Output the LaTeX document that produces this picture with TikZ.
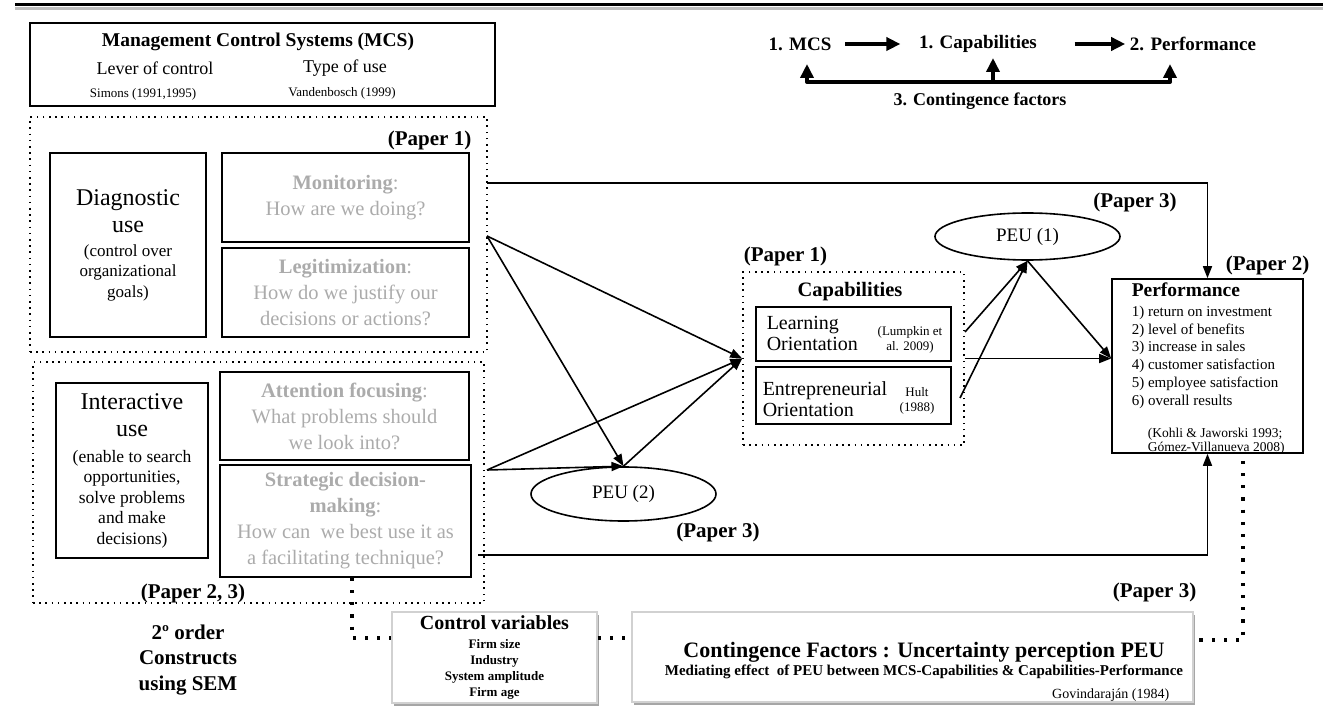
\documentclass[tikz,border=0pt]{standalone}
\usepackage{fontspec}
\setmainfont{Liberation Serif}
\usetikzlibrary{arrows.meta,shadows,shapes.geometric}
\newcommand{\fsz}[2]{\fontsize{#1}{#2}\selectfont}

\tikzset{every picture/.style={line width=1.5pt},
  box/.style={draw, line width=1.6pt, inner sep=0pt, align=center},
  dotbox/.style={draw, line width=1.6pt, dash pattern=on 1.6pt off 4.6pt, inner sep=0pt},
  gtxt/.style={text=black!33, align=center, inner sep=0pt, font=\fsz{20.5}{26}},
  peu/.style={draw, ellipse, line width=1.6pt, inner sep=0pt, font=\fsz{19}{20}},
  arr/.style={-{Triangle[length=12pt,width=9pt]}, line width=1.6pt},
  fatarr/.style={-{Triangle[length=14pt,width=13pt]}, line width=4pt},
  bigdots/.style={line width=3.2pt, dash pattern=on 3.2pt off 9pt},
  shbox/.style={draw=black!18, line width=1.6pt, fill=white, inner sep=0pt, align=center,
    drop shadow={shadow xshift=2pt, shadow yshift=-3pt, opacity=0.35, fill=black}},
  paper/.style={font=\bfseries\fsz{21}{24}, inner sep=0pt},
  txt/.style={inner sep=0pt, align=center}}

\begin{document}
\begin{tikzpicture}[x=1pt,y=1pt,yscale=-1,xscale=1]
\useasboundingbox (0,0) rectangle (1323,722);

% top rule
\draw [black!25, line width=3pt] (15,9) -- (1323,9);
\draw [line width=3pt] (15,5) -- (1323,5);

% MCS header
\node [box, minimum width=465pt, minimum height=83pt] (mcs) at (262.5,64.5) {};
\node [txt, font=\bfseries\fsz{19.5}{22}] (mcstitle) at (258,42) {Management Control Systems (MCS)};
\node [txt, font=\fsz{18}{20}] (lever) at (155,68) {Lever of control};
\node [txt, font=\fsz{18}{20}] (typeuse) at (345,68) {Type of use};
\node [txt, font=\fsz{13}{15}] (simons) at (143,94) {Simons (1991,1995)};
\node [txt, font=\fsz{13}{15}] (vanden) at (342,93) {Vandenbosch (1999)};

% top chain
\node [txt, font=\bfseries\fsz{19}{21}] (t1) at (800,44) {1. MCS};
\node [txt, font=\bfseries\fsz{19}{21}] (t2) at (978,44) {1. Capabilities};
\node [txt, font=\bfseries\fsz{19}{21}] (t3) at (1193,44) {2. Performance};
\node [txt, font=\bfseries\fsz{18}{20}] (t4) at (980,101) {3. Contingence factors};
\draw [fatarr, shorten <=13pt, shorten >=18pt] (t1.east) -- (t2.west);
\draw [fatarr, shorten <=37pt, shorten >=4pt] (t2.east) -- (t3.west);
\coordinate (bl) at (807,82);
\coordinate (bm) at (993,82);
\coordinate (br) at (1170,82);
\coordinate (bltip) at (807,64);
\coordinate (bmtip) at (993,58);
\coordinate (brtip) at (1170,64);
\draw [line width=4pt, line cap=round] (bl) -- (br);
\draw [fatarr] (bl) -- (bltip);
\draw [fatarr] (bm) -- (bmtip);
\draw [fatarr] (br) -- (brtip);

% diagnostic use
\node [dotbox, minimum width=457pt, minimum height=235pt] (pbox1) at (258.5,234.5) {};
\node [paper, anchor=east] (paper1a) at (472,140) {(Paper 1)};
\node [box, minimum width=156pt, minimum height=184pt, font=\fsz{17}{20.5}] (diag) at (128,245)
  {{\fsz{24}{27}Diagnostic}\\[6.5pt]{\fsz{24}{27}use}\\[3.5pt](control over\\organizational\\goals)};
\node [box, minimum width=247pt, minimum height=89pt] (mon) at (345.5,197.5) {};
\node [gtxt] (montxt) at (mon.center) {\textbf{Monitoring}:\\How are we doing?};
\node [box, minimum width=247pt, minimum height=89pt] (legit) at (345.5,292.5) {};
\node [gtxt] (legittxt) at (legit.center) {\textbf{Legitimization}:\\How do we justify our\\decisions or actions?};

% interactive use
\node [dotbox, minimum width=451pt, minimum height=241pt] (pbox2) at (258.5,482.5) {};
\node [box, minimum width=152pt, minimum height=175pt, font=\fsz{17.5}{20.5}] (inter) at (132,470.5)
  {{\fsz{24}{27}Interactive}\\[6.5pt]{\fsz{24}{27}use}\\[5.5pt](enable to search\\opportunities,\\solve problems\\and make\\decisions)};
\node [box, minimum width=249pt, minimum height=88pt] (attn) at (344.5,416) {};
\node [gtxt] (attntxt) at (attn.center) {\textbf{Attention focusing}:\\What problems should\\we look into?};
\node [box, minimum width=251pt, minimum height=112pt] (strat) at (345.5,521) {};
\node [gtxt] (strattxt) at (strat.center) {\textbf{Strategic decision-}\\\textbf{making}:\\How can\ \ we best use it as\\a facilitating technique?};
\node [paper] (paper23) at (193,593) {(Paper 2, 3)};
\node [txt, font=\bfseries\fsz{21}{25.5}] (sem) at (188,660) {2º order\\Constructs\\using SEM};

% capabilities
\node [dotbox, minimum width=221pt, minimum height=173pt] (capbox) at (853.5,358.5) {};
\node [paper, anchor=west] (paper1b) at (743,256) {(Paper 1)};
\node [txt, font=\bfseries\fsz{20.5}{22}] (captitle) at (850,292) {Capabilities};
\node [box, minimum width=195pt, minimum height=54pt] (learn) at (853.5,334) {};
\node [txt, align=left, anchor=west, font=\fsz{20}{21}] (learntxt) at (766,333) {Learning\\Orientation};
\node [txt, font=\fsz{13}{15}] (lumpkin) at (910,340) {(Lumpkin et\\al. 2009)};
\node [box, minimum width=195pt, minimum height=57pt] (entre) at (853.5,395.5) {};
\node [txt, align=left, anchor=west, font=\fsz{20}{21}] (entretxt) at (762,399.5) {Entrepreneurial\\Orientation};
\node [txt, font=\fsz{13}{15}] (hult) at (917,400.5) {Hult\\(1988)};

% PEU
\node [peu, minimum width=185pt, minimum height=47pt] (peu1) at (1027.5,236.5) {PEU (1)};
\node [paper] (paper3a) at (1135,202) {(Paper 3)};
\node [peu, minimum width=185pt, minimum height=54pt] (peu2) at (623.5,494) {PEU (2)};
\node [paper] (paper3b) at (718,532) {(Paper 3)};

% performance
\node [box, minimum width=191pt, minimum height=174pt] (perf) at (1207.5,366) {};
\node [paper, anchor=east] (paper2) at (1310,265) {(Paper 2)};
\node [txt, align=left, anchor=north west, font=\fsz{15}{17.8}] (perftxt) at (1131,282)
  {{\fsz{19.5}{20}\bfseries Performance}\\[2pt]1) return on investment\\2) level of benefits\\3) increase in sales\\4) customer satisfaction\\5) employee satisfaction\\6) overall results\\[14pt]
  \hspace{16pt}{\fsz{13.5}{15}(Kohli \& Jaworski 1993;}\\[-3pt]\hspace{16pt}{\fsz{13.5}{15}Gómez-Villanueva 2008)}};

% bottom boxes
\node [shbox, minimum width=205pt, minimum height=91pt, font=\bfseries\fsz{13}{16.2}] (ctrl) at (494.5,657.5)
  {{\fsz{20}{22}Control variables}\\[3pt]Firm size\\Industry\\System amplitude\\Firm age};
\node [shbox, minimum width=561pt, minimum height=90pt] (cont) at (912.5,657) {};
\node [txt, font=\bfseries\fsz{15}{18}] (conttxt) at (924,661)
  {{\fsz{22}{24}Contingence Factors : Uncertainty perception PEU}\\Mediating effect\ \ of PEU between MCS-Capabilities \& Capabilities-Performance};
\node [txt, anchor=east, font=\fsz{14}{16}] (gov) at (1170,695) {Govindaraján (1984)};
\node [paper, anchor=east] (paper3c) at (1197,592) {(Paper 3)};

% connectors
\coordinate (topsrc) at (487,183);
\coordinate (dsrc) at (487,236);
\coordinate (isrc) at (487,470);
\coordinate (bsrc) at (478,555);
\coordinate (lsrc) at (965,332);
\coordinate (esrc) at (960,398);
\draw [arr] (topsrc) -| (perf.north);
\draw [arr] (dsrc) -- (capbox.west);
\draw [arr] (dsrc) -- (peu2.north);
\draw [arr] (isrc) -- (capbox.west);
\draw [arr] (isrc) -- (peu2.north);
\draw [arr] (peu2.north) -- (capbox.west);
\draw [arr] (lsrc) -- (peu1.south);
\draw [arr] (esrc) -- (peu1.south);
\draw [arr] (peu1.south) -- (perf.west |- capbox.east);
\draw [arr] (capbox.east) -- (perf.west |- capbox.east);
\draw [arr] (bsrc) -| (perf.south);

% dotted links to the bottom boxes
\draw [bigdots] (strat.south -| 352,0) |- (ctrl.west |- 0,638);
\draw [bigdots] (ctrl.east |- 0,638) -- (cont.west |- 0,638);
\draw [bigdots] (perf.south -| 1243,0) ++(0,7) |- (cont.east |- 0,640);

\end{tikzpicture}
\end{document}
